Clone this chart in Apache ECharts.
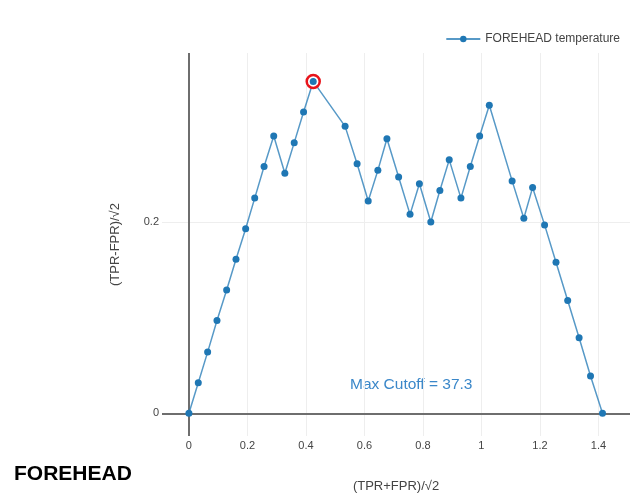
<!DOCTYPE html>
<html>
<head>
<meta charset="utf-8">
<script src="https://cdn.jsdelivr.net/npm/echarts@6/dist/echarts.min.js"></script>
<style>
html,body{margin:0;padding:0;background:#fff;}
#chart{width:635px;height:502px;}
</style>
</head>
<body>
<div id="chart"></div>
<script>
// (TPR+FPR)/sqrt2 values
const xVals = [0, 0.032, 0.064, 0.096, 0.129, 0.161, 0.194, 0.225, 0.257, 0.290, 0.328, 0.360, 0.392, 0.425, 0.534, 0.575, 0.613, 0.646, 0.677, 0.717, 0.756, 0.788, 0.827, 0.858, 0.890, 0.930, 0.962, 0.994, 1.027, 1.105, 1.145, 1.175, 1.216, 1.255, 1.295, 1.334, 1.373, 1.414];
// (TPR-FPR)/sqrt2 values
const yVals = [0, 0.032, 0.064, 0.097, 0.129, 0.161, 0.193, 0.225, 0.258, 0.290, 0.251, 0.283, 0.315, 0.347, 0.300, 0.261, 0.222, 0.254, 0.287, 0.247, 0.208, 0.240, 0.200, 0.233, 0.265, 0.225, 0.258, 0.290, 0.322, 0.243, 0.204, 0.236, 0.197, 0.158, 0.118, 0.079, 0.039, 0];
const xTicks = [0, 0.2, 0.4, 0.6, 0.8, 1, 1.2, 1.4];
const yTicks = [0, 0.2];
const seriesName = 'FOREHEAD temperature';
const chartTitle = 'FOREHEAD';
const xTitle = '(TPR+FPR)/\u221A2';
const yTitle = '(TPR-FPR)/\u221A2';
const annotationText = 'Max Cutoff = 37.3';

const FONT = "'Liberation Sans', Arial, sans-serif";
const points = xVals.map((x, i) => [x, yVals[i]]);
let maxIdx = 0;
yVals.forEach((v, i) => { if (v > yVals[maxIdx]) maxIdx = i; });
const maxPoint = points[maxIdx];

const gridLines = [
  ...xTicks.filter(v => v !== 0).map(v => ({ xAxis: v })),
  ...yTicks.filter(v => v !== 0).map(v => ({ yAxis: v }))
];

const chart = echarts.init(document.getElementById('chart'), null, { renderer: 'canvas' });
chart.setOption({
  animation: false,
  backgroundColor: '#fff',
  textStyle: { fontFamily: FONT },
  title: {
    text: chartTitle,
    left: 9,
    top: 459,
    textStyle: { fontFamily: FONT, fontSize: 21, fontWeight: 'bold', color: '#000' }
  },
  legend: {
    data: [seriesName],
    right: 10,
    top: 28,
    itemWidth: 34,
    itemHeight: 8,
    itemGap: 5,
    textStyle: { fontFamily: FONT, fontSize: 12, color: '#444' }
  },
  grid: { left: 162, right: 5, top: 53, bottom: 66, containLabel: false },
  xAxis: {
    type: 'value',
    min: -0.092,
    max: 1.508,
    name: xTitle,
    nameLocation: 'middle',
    nameGap: 44,
    nameTextStyle: { fontFamily: FONT, fontSize: 13, color: '#444' },
    axisLine: { show: false },
    axisTick: { show: false },
    splitLine: { show: false },
    axisLabel: {
      customValues: xTicks,
      margin: 4,
      fontFamily: FONT, fontSize: 11, color: '#444',
      formatter: v => String(Math.round(v * 10) / 10)
    }
  },
  yAxis: {
    type: 'value',
    min: -0.0237,
    max: 0.3767,
    name: yTitle,
    nameLocation: 'middle',
    nameGap: 40,
    nameRotate: 90,
    nameTextStyle: { fontFamily: FONT, fontSize: 13, color: '#444' },
    axisLine: { show: false },
    axisTick: { show: false },
    splitLine: { show: false },
    axisLabel: {
      customValues: yTicks,
      margin: 3,
      fontFamily: FONT, fontSize: 11, color: '#444',
      formatter: v => String(Math.round(v * 10) / 10)
    }
  },
  graphic: [
    {
      type: 'text',
      left: 350,
      top: 377,
      style: { text: annotationText, fontFamily: FONT, fontSize: 15.5, fill: '#3a87c9' }
    }
  ],
  series: [
    {
      name: 'grid',
      type: 'line',
      data: [],
      silent: true,
      z: 0,
      markLine: {
        silent: true,
        z: 0,
        symbol: ['none', 'none'],
        label: { show: false },
        lineStyle: { color: '#eeeeee', width: 1, type: 'solid' },
        data: gridLines
      }
    },
    {
      name: 'zero',
      type: 'line',
      data: [],
      silent: true,
      z: 1,
      markLine: {
        silent: true,
        z: 1,
        symbol: ['none', 'none'],
        label: { show: false },
        lineStyle: { color: '#6e6e6e', width: 2, type: 'solid' },
        data: [{ xAxis: 0 }, { yAxis: 0 }]
      }
    },
    {
      name: seriesName,
      type: 'line',
      data: points,
      z: 3,
      symbol: 'circle',
      symbolSize: 7,
      showAllSymbol: true,
      color: '#1f77b4',
      lineStyle: { color: '#1f77b4', width: 1.5, opacity: 0.75 },
      itemStyle: { color: '#1f77b4' }
    },
    {
      name: 'maxRing',
      type: 'scatter',
      data: [maxPoint],
      z: 4,
      symbol: 'circle',
      symbolSize: 13,
      itemStyle: { color: '#fff', borderColor: '#e8141b', borderWidth: 2.5, opacity: 1 }
    },
    {
      name: 'maxDot',
      type: 'scatter',
      data: [maxPoint],
      z: 5,
      symbol: 'circle',
      symbolSize: 7,
      itemStyle: { color: '#1f77b4', opacity: 1 }
    }
  ]
});
</script>
</body>
</html>
